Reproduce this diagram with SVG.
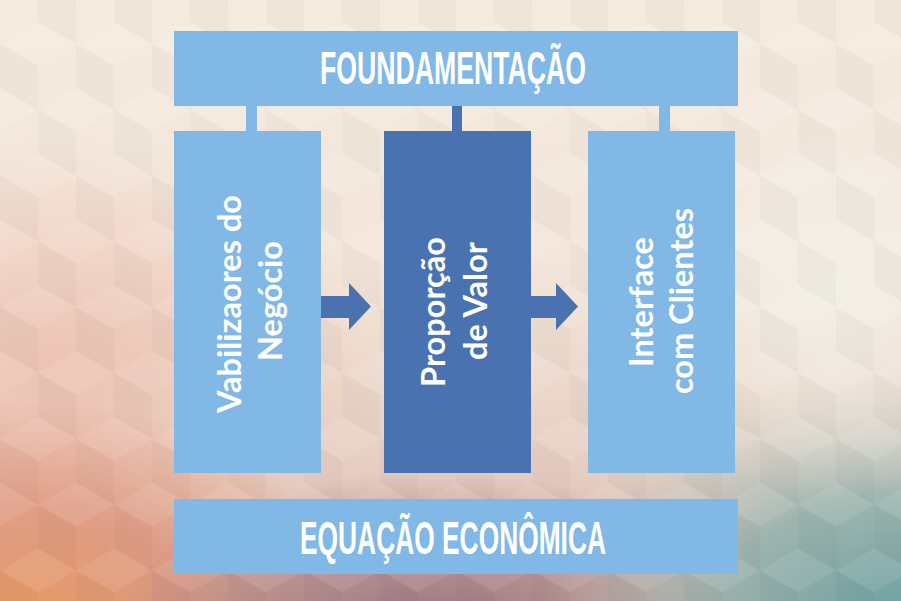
<svg xmlns="http://www.w3.org/2000/svg" width="901" height="601" viewBox="0 0 901 601">
  <defs>
    <style>
      .light { fill: #82B8E6; }
      .dark { fill: #4A72B0; }
      .title { font-family: "Liberation Sans", Arial, sans-serif; font-weight: bold; fill: #FFFFFF; }
      .vlabel { font-family: Lato, "Liberation Sans", sans-serif; font-weight: bold; font-size: 32.5px; fill: #FFFFFF; text-anchor: middle; }
    </style>
    <linearGradient id="bgBase" x1="0" y1="0" x2="0" y2="1">
      <stop offset="0" stop-color="#F5EBE0"/>
      <stop offset="0.45" stop-color="#F3E5D9"/>
      <stop offset="0.8" stop-color="#E6CCC0"/>
      <stop offset="1" stop-color="#C9A6A0"/>
    </linearGradient>
    <radialGradient id="gPink" cx="0.5" cy="0.5" r="0.5">
      <stop offset="0" stop-color="#EDC0AF" stop-opacity="0.9"/>
      <stop offset="1" stop-color="#EDC0AF" stop-opacity="0"/>
    </radialGradient>
    <radialGradient id="gOrange" cx="0.5" cy="0.5" r="0.5">
      <stop offset="0" stop-color="#E89C62" stop-opacity="1"/>
      <stop offset="0.5" stop-color="#E0957A" stop-opacity="0.8"/>
      <stop offset="1" stop-color="#E0957A" stop-opacity="0"/>
    </radialGradient>
    <radialGradient id="gMauve" cx="0.5" cy="0.5" r="0.5">
      <stop offset="0" stop-color="#957080" stop-opacity="1"/>
      <stop offset="0.55" stop-color="#AD8688" stop-opacity="0.7"/>
      <stop offset="1" stop-color="#B08A8C" stop-opacity="0"/>
    </radialGradient>
    <radialGradient id="gTeal" cx="0.5" cy="0.5" r="0.5">
      <stop offset="0" stop-color="#6AA0A2" stop-opacity="1"/>
      <stop offset="0.5" stop-color="#8FB3AE" stop-opacity="0.8"/>
      <stop offset="1" stop-color="#BCCEC6" stop-opacity="0"/>
    </radialGradient>
    <radialGradient id="gCream" cx="0.5" cy="0.5" r="0.5">
      <stop offset="0" stop-color="#F3F1E8" stop-opacity="0.9"/>
      <stop offset="1" stop-color="#F3F1E8" stop-opacity="0"/>
    </radialGradient>
    <pattern id="cubes" width="76" height="131.64" patternUnits="userSpaceOnUse">
      <g fill="#FFFFFF" fill-opacity="0.08">
        <path d="M0,-43.88 L38,-21.94 L0,0 L-38,-21.94 Z"/>
        <path d="M76,-43.88 L114,-21.94 L76,0 L38,-21.94 Z"/>
        <path d="M38,21.94 L76,43.88 L38,65.82 L0,43.88 Z"/>
        <path d="M0,87.76 L38,109.7 L0,131.64 L-38,109.7 Z"/>
        <path d="M76,87.76 L114,109.7 L76,131.64 L38,109.7 Z"/>
      </g>
      <g fill="#000000" fill-opacity="0.025">
        <path d="M-38,-21.94 L0,0 L0,43.88 L-38,21.94 Z"/>
        <path d="M38,-21.94 L76,0 L76,43.88 L38,21.94 Z"/>
        <path d="M0,43.88 L38,65.82 L38,109.7 L0,87.76 Z"/>
        <path d="M-38,109.7 L0,131.64 L0,175.52 L-38,153.58 Z"/>
        <path d="M38,109.7 L76,131.64 L76,175.52 L38,153.58 Z"/>
      </g>
    </pattern>
  </defs>

  <g id="background">
    <rect x="0" y="0" width="901" height="601" fill="url(#bgBase)"/>
    <ellipse cx="60" cy="370" rx="320" ry="230" fill="url(#gPink)"/>
    <ellipse cx="30" cy="620" rx="320" ry="220" fill="url(#gOrange)"/>
    <ellipse cx="430" cy="640" rx="320" ry="170" fill="url(#gMauve)"/>
    <ellipse cx="900" cy="620" rx="360" ry="250" fill="url(#gTeal)"/>
    <ellipse cx="830" cy="290" rx="220" ry="210" fill="url(#gCream)"/>
    <rect x="0" y="0" width="901" height="601" fill="url(#cubes)"/>
  </g>

  <g id="connectors">
    <rect class="light" x="246" y="105" width="11" height="27"/>
    <rect class="dark" x="452" y="105" width="10" height="27"/>
    <rect class="light" x="659" y="105" width="11" height="27"/>
    <polygon class="dark" points="320,296 349,296 349,283 371,306.5 349,330 349,318 320,318"/>
    <polygon class="dark" points="530,296 556,296 556,283 578,306.5 556,330 556,318 530,318"/>
  </g>

  <g id="node-foundamentacao">
    <rect class="light" x="174" y="31" width="564" height="75"/>
    <text class="title" x="320" y="83.5" font-size="46" textLength="266" lengthAdjust="spacingAndGlyphs">FOUNDAMENTAÇÃO</text>
  </g>

  <g id="node-vabilizadores">
    <rect class="light" x="174" y="131" width="147" height="342"/>
    <text class="vlabel" transform="translate(241,304) rotate(-90)">Vabilizaores do</text>
    <text class="vlabel" transform="translate(282,301) rotate(-90)">Negócio</text>
  </g>

  <g id="node-proporcao">
    <rect class="dark" x="384" y="131" width="147" height="342"/>
    <text class="vlabel" transform="translate(445,312) rotate(-90)">Proporção</text>
    <text class="vlabel" transform="translate(487,301) rotate(-90)">de Valor</text>
  </g>

  <g id="node-interface">
    <rect class="light" x="588" y="131" width="147" height="342"/>
    <text class="vlabel" transform="translate(653,302) rotate(-90)">Interface</text>
    <text class="vlabel" transform="translate(693,301) rotate(-90)">com Clientes</text>
  </g>

  <g id="node-equacao">
    <rect class="light" x="174" y="499" width="564" height="75"/>
    <text class="title" x="300" y="554" font-size="47" textLength="306" lengthAdjust="spacingAndGlyphs">EQUAÇÃO ECONÔMICA</text>
  </g>
</svg>
